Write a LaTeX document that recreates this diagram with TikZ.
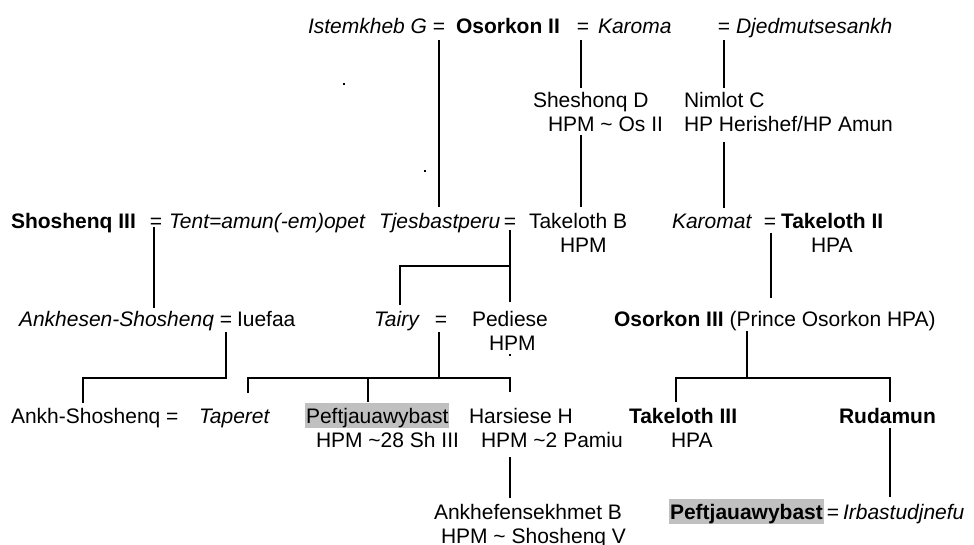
\documentclass[tikz,border=0pt]{standalone}
\usepackage{fontspec}
\setmainfont{Liberation Sans}
\usetikzlibrary{calc}
\definecolor{hl}{RGB}{192,192,192}
\begin{document}
\begin{tikzpicture}[x=1pt,y=-1pt,
  txt/.style={anchor=base west,inner sep=0pt,outer sep=0pt,text height=15pt,text depth=5pt,font=\fontsize{21}{24}\selectfont},
  it/.style={txt,font=\fontsize{21}{24}\selectfont\itshape},
  bd/.style={txt,font=\fontsize{21}{24}\selectfont\bfseries},
  eqs/.style={txt,anchor=base},
  hilite/.style={txt,fill=hl,inner xsep=1pt,inner ysep=0pt,text height=20pt,text depth=5pt},
  link/.style={line width=1.3pt,line cap=butt}]
\useasboundingbox (0,0) rectangle (974,545);
% Row 1
\node[it]  (ist)  at (308,34) {Istemkheb G};
\node[eqs] (eqIO) at (439,34) {=};
\node[bd]  (os2)  at (456,34) {Osorkon II};
\node[eqs] (eqK)  at (583,34) {=};
\node[it]  (kar)  at (598,34) {Karoma};
\node[eqs] (eqD)  at (724,34) {=};
\node[it]  (dje)  at (736,34) {Djedmutsesankh};
% Row 2
\node[txt] (shD)  at (533,108) {Sheshonq D};
\node[txt] (shD2) at (548,132) {HPM \textasciitilde{} Os II};
\node[txt] (nim)  at (684,108) {Nimlot C};
\node[txt] (nim2) at (684,132) {HP Herishef/HP Amun};
% Row 3
\node[bd]  (sh3)  at (11,229) {Shoshenq III};
\node[eqs] (eqS3) at (156,229) {=};
\node[it]  (tent) at (169,229) {Tent=amun(-em)opet};
\node[it]  (tjes) at (379,229) {Tjesbastperu};
\node[eqs] (eqT)  at (510,229) {=};
\node[txt] (takB) at (529,229) {Takeloth B};
\node[txt] (takB2) at (560,253) {HPM};
\node[it]  (krt)  at (672,229) {Karomat};
\node[eqs] (eqKT) at (770,229) {=};
\node[bd]  (tak2) at (781,229) {Takeloth II};
\node[txt] (tak2b) at (811,253) {HPA};
% Row 4
\node[it]  (ankh) at (19,326) {Ankhesen-Shoshenq};
\node[eqs] (eqA)  at (226,326) {=};
\node[txt] (iue)  at (237,326) {Iuefaa};
\node[it]  (tai)  at (374,326) {Tairy};
\node[eqs] (eqTP) at (441,326) {=};
\node[txt] (ped)  at (472,326) {Pediese};
\node[txt] (ped2) at (489,350) {HPM};
\node[txt] (os3)  at (614,326) {\textbf{Osorkon III} (Prince Osorkon HPA)};
% Row 5
\node[txt] (aksh) at (11,423) {Ankh-Shoshenq =};
\node[it]  (tap)  at (199,423) {Taperet};
\node[hilite] (pef) at (305,423) {Peftjauawybast};
\node[txt] (pef2) at (316,447) {HPM \textasciitilde28 Sh III};
\node[txt] (har)  at (469,423) {Harsiese H};
\node[txt] (har2) at (481,447) {HPM \textasciitilde2 Pamiu};
\node[bd]  (t3)   at (629,423) {Takeloth III};
\node[txt] (t3b)  at (671,447) {HPA};
\node[bd]  (rud)  at (839,423) {Rudamun};
% Row 6
\node[txt] (ankf) at (434,519) {Ankhefensekhmet B};
\node[txt] (ankf2) at (441,543) {HPM \textasciitilde{} Shoshenq V};
\node[hilite,font=\fontsize{21}{24}\selectfont\bfseries] (pefB) at (669,519) {Peftjauawybast};
\node[eqs] (eqPI) at (833,519) {=};
\node[it]  (irb)  at (843,519) {Irbastudjnefu};
% junction coordinates
\coordinate (brT)   at (510,266);
\coordinate (barAL) at (83,378);
\coordinate (barTL) at (248,378);
\coordinate (barTM) at (368,378);
\coordinate (barTP) at (439,378);
\coordinate (barTR) at (510,378);
\coordinate (barOL) at (676,378);
\coordinate (barOM) at (747,378);
\coordinate (barOR) at (890,378);
% connectors
\draw[link] ($(eqIO.south)+(0,1)$) -- ($(tjes.north -| eqIO)+(0,-7)$);
\draw[link] ($(eqK.south -| 581,0)+(0,1)$) -- ($(shD.north -| 581,0)+(0,-5)$);
\draw[link] ($(eqD.south)+(0,1)$) -- ($(nim.north -| eqD)+(0,-5)$);
\draw[link] ($(shD2.south -| 581,0)+(0,-2)$) -- ($(takB.north -| 581,0)+(0,-7)$);
\draw[link] ($(nim2.south -| eqD)+(0,5)$) -- ($(krt.north -| eqD)+(0,-6)$);
\draw[link] ($(eqS3.south -| 154,0)+(0,-7)$) -- ($(ankh.north -| 154,0)+(0,-3)$);
\draw[link] ($(eqT.south)+(0,-4)$) -- ($(ped.north -| eqT)+(0,-9)$);
\draw[link] (brT) -| ($(tai.north -| 400,0)+(0,-6)$);
\draw[link] ($(eqKT.south -| 771,0)+(0,-1)$) -- ($(os3.north -| 771,0)+(0,-13)$);
\draw[link] ($(eqA.south)+(0,1)$) |- (barAL) -- ($(aksh.north -| barAL)+(0,-5)$);
\draw[link] ($(eqTP.south -| barTP)+(0,1)$) -- (barTP);
\draw[link] ($(tap.north -| barTL)+(0,-15)$) -- (barTL) -- (barTR) -- ($(har.north -| barTR)+(0,-16)$);
\draw[link] (barTM) -- ($(pef.north -| barTM)+(0,-1)$);
\draw[link] ($(har2.south -| barTR)+(0,5)$) -- ($(ankf.north -| barTR)+(0,-6)$);
\draw[link] (os3.south -| barOM) -- (barOM);
\draw[link] ($(t3.north -| barOL)+(0,-6)$) -- (barOL) -- (barOR) -- ($(rud.north -| barOR)+(0,-6)$);
\draw[link] (rud.south -| barOR) -- ($(pefB.north -| barOR)+(0,-2)$);
% stray dots present in the reference
\fill (343,83) rectangle (345,85);
\fill (424,170) rectangle (426,172);
\fill (509,354) rectangle (511,356);
\end{tikzpicture}
\end{document}
